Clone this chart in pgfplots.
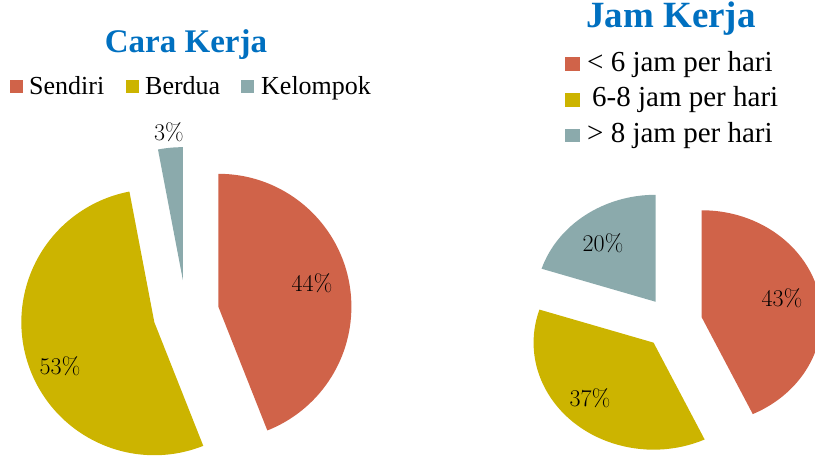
\documentclass[border=0pt]{standalone}
\usepackage{fontspec}
\setmainfont{Liberation Serif}
\usepackage{pgfplots}
\pgfplotsset{compat=1.18}
\usetikzlibrary{calc}
\definecolor{sred}{RGB}{208,99,73}
\definecolor{syel}{RGB}{204,180,0}
\definecolor{steal}{RGB}{139,170,172}
\definecolor{tblue}{RGB}{0,112,192}

% slice: cx, cy, x radius, y radius, explode (fraction of radius), start (cumulative %), value (%), colour
\newcommand{\pieslice}[8]{%
  \fill[#8] ($(axis cs:#1,#2)+({#3*#5*cos(90-3.6*(#6)-1.8*(#7))*1pt},{#4*#5*sin(90-3.6*(#6)-1.8*(#7))*1pt})$)
    -- ++({#3*cos(90-3.6*(#6))*1pt},{#4*sin(90-3.6*(#6))*1pt})
    arc[start angle={90-3.6*(#6)}, end angle={90-3.6*(#6+#7)}, x radius=#3pt, y radius=#4pt] -- cycle;}

\begin{document}
\begin{tikzpicture}
\begin{axis}[
  x=1pt, y=1pt,
  xmin=0, xmax=815, ymin=0, ymax=460,
  hide axis, clip=true,
]
% Cara Kerja: Sendiri 44, Berdua 53, Kelompok 3
\pieslice{186}{147}{133}{133}{0.248}{0}{44}{sred}
\pieslice{186}{147}{133}{133}{0.248}{44}{53}{syel}
\pieslice{186}{147}{133}{133}{0.248}{97}{3}{steal}
% Jam Kerja: <6 43, 6-8 37, >8 20
\pieslice{673}{137}{120}{107}{0.245}{0}{43}{sred}
\pieslice{673}{137}{120}{107}{0.245}{43}{37}{syel}
\pieslice{673}{137}{120}{107}{0.245}{80}{20}{steal}

\begin{scope}[every node/.style={font=\fontfamily{lmr}\fontsize{24}{28}\selectfont}]
\node at (axis cs:312,177) {44\%};
\node at (axis cs:60,94) {53\%};
\node at (axis cs:169,328) {3\%};
\node at (axis cs:782,162) {43\%};
\node at (axis cs:590,62) {37\%};
\node at (axis cs:603,217) {20\%};
\end{scope}

% titles
\node[anchor=base, text=tblue, font=\fontsize{33}{37}\selectfont\bfseries] at (axis cs:186,407) {Cara Kerja};
\node[anchor=base, text=tblue, font=\fontsize{37}{41}\selectfont\bfseries] at (axis cs:671,432) {Jam Kerja};

% legends
\begin{scope}[every node/.style={anchor=base west, inner sep=0pt, font=\fontsize{26}{30}\selectfont}]
\fill[sred] (axis cs:10,367) rectangle (axis cs:23,380);
\node at (axis cs:29,365) {Sendiri};
\fill[syel] (axis cs:126,367) rectangle (axis cs:139,380);
\node at (axis cs:145,365) {Berdua};
\fill[steal] (axis cs:241,367) rectangle (axis cs:254,380);
\node at (axis cs:261,365) {Kelompok};
\end{scope}
\begin{scope}[every node/.style={anchor=base west, inner sep=0pt, font=\fontsize{29}{33}\selectfont}]
\fill[sred] (axis cs:565,389) rectangle (axis cs:580,403);
\node at (axis cs:587,388) {< 6 jam per hari};
\fill[syel] (axis cs:565,353) rectangle (axis cs:580,367);
\node at (axis cs:592,353) {6-8 jam per hari};
\fill[steal] (axis cs:565,318) rectangle (axis cs:580,331);
\node at (axis cs:587,317) {> 8 jam per hari};
\end{scope}
\end{axis}
\pgfresetboundingbox
\path (current axis.south west) rectangle (current axis.north east);
\end{tikzpicture}
\end{document}
